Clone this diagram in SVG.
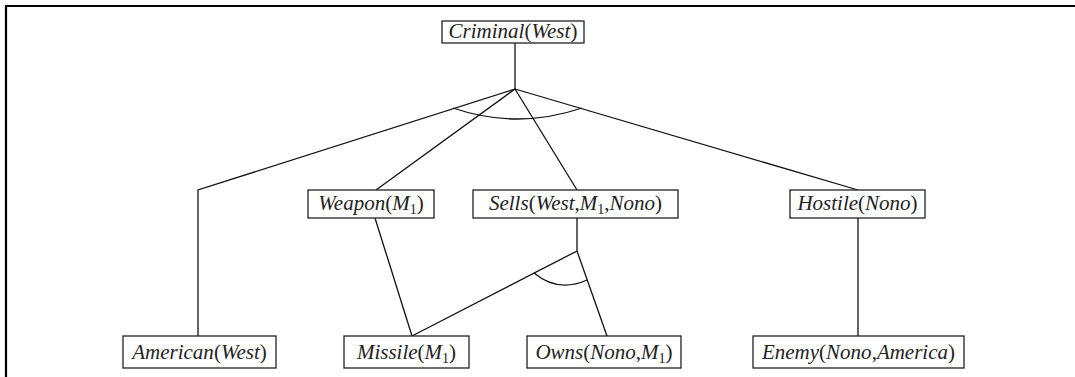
<svg xmlns="http://www.w3.org/2000/svg" width="1075" height="377" viewBox="0 0 1075 377">
<style>
.box{fill:#fff;stroke:#222;stroke-width:1.3}
.lbl{font-family:'Liberation Serif','Times New Roman','DejaVu Serif',serif;font-size:21px;fill:#222;text-anchor:middle}
.it{font-style:italic}
.sub{font-size:14px}
.ln{fill:none;stroke:#111;stroke-width:1.3}
.frame{fill:none;stroke:#000;stroke-width:2.2}
</style>
<rect width="1075" height="377" fill="#fff"/>
<path class="frame" d="M6,377 V6 H1075"/>
<g id="connectors">
<line class="ln" x1="515" y1="43" x2="515" y2="89"/>
<polyline class="ln" points="515,89 198,190 198,336"/>
<line class="ln" x1="515" y1="89" x2="376" y2="190"/>
<line class="ln" x1="515" y1="89" x2="577" y2="190"/>
<line class="ln" x1="515" y1="89" x2="858" y2="190"/>
<path class="ln" d="M453,108 Q517,130 582,108"/>
<line class="ln" x1="375" y1="218" x2="412" y2="336"/>
<polyline class="ln" points="577,218 577,251 412,336"/>
<line class="ln" x1="577" y1="251" x2="607" y2="336"/>
<path class="ln" d="M534,273 Q558,293 587,280"/>
<line class="ln" x1="858" y1="218" x2="858" y2="336"/>
</g>
<g id="criminal">
<rect class="box" x="442" y="21" width="142" height="22"/>
<text class="lbl" x="513" y="38" font-family="Liberation Serif, DejaVu Serif, serif"><tspan class="it">Criminal</tspan>(<tspan class="it">West</tspan>)</text>
</g>
<g id="weapon">
<rect class="box" x="308" y="190" width="126" height="28"/>
<text class="lbl" x="371" y="210"><tspan class="it">Weapon</tspan>(<tspan class="it">M</tspan><tspan class="sub" dy="4">1</tspan><tspan dy="-4">)</tspan></text>
</g>
<g id="sells">
<rect class="box" x="473" y="190" width="205" height="28"/>
<text class="lbl" x="575.5" y="210"><tspan class="it">Sells</tspan>(<tspan class="it">West</tspan>,<tspan class="it">M</tspan><tspan class="sub" dy="4">1</tspan><tspan dy="-4">,</tspan><tspan class="it">Nono</tspan>)</text>
</g>
<g id="hostile">
<rect class="box" x="790" y="190" width="135" height="28"/>
<text class="lbl" x="857.5" y="210"><tspan class="it">Hostile</tspan>(<tspan class="it">Nono</tspan>)</text>
</g>
<g id="american">
<rect class="box" x="123" y="336" width="153" height="32"/>
<text class="lbl" x="199.5" y="359"><tspan class="it">American</tspan>(<tspan class="it">West</tspan>)</text>
</g>
<g id="missile">
<rect class="box" x="344" y="336" width="125" height="32"/>
<text class="lbl" x="406.5" y="359"><tspan class="it">Missile</tspan>(<tspan class="it">M</tspan><tspan class="sub" dy="4">1</tspan><tspan dy="-4">)</tspan></text>
</g>
<g id="owns">
<rect class="box" x="527" y="336" width="154" height="32"/>
<text class="lbl" x="604" y="359"><tspan class="it">Owns</tspan>(<tspan class="it">Nono</tspan>,<tspan class="it">M</tspan><tspan class="sub" dy="4">1</tspan><tspan dy="-4">)</tspan></text>
</g>
<g id="enemy">
<rect class="box" x="753" y="336" width="211" height="32"/>
<text class="lbl" x="858.5" y="359"><tspan class="it">Enemy</tspan>(<tspan class="it">Nono</tspan>,<tspan class="it">America</tspan>)</text>
</g>
</svg>
